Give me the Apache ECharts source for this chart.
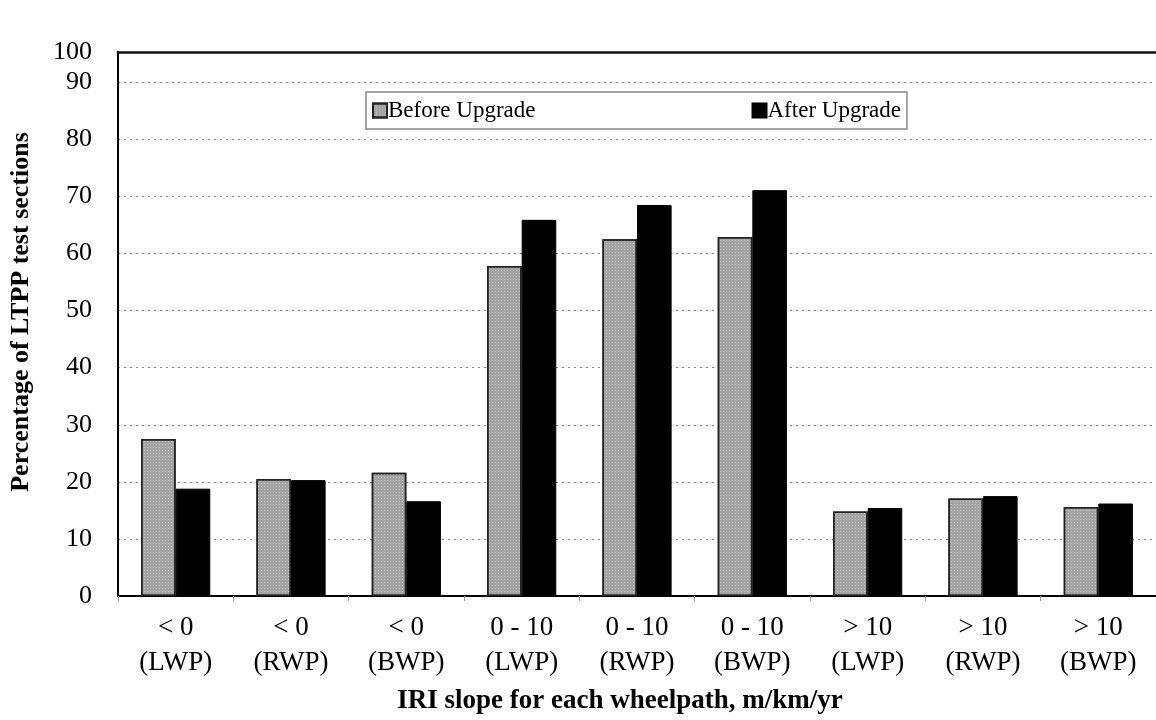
<!DOCTYPE html>
<html>
<head>
<meta charset="utf-8">
<script src="https://cdn.jsdelivr.net/npm/echarts@6/dist/echarts.min.js"></script>
<style>
  html, body { margin: 0; padding: 0; background: #fff; }
  #chart { width: 1156px; height: 720px; }
</style>
</head>
<body>
<div id="chart"></div>
<script>
var categories = ['< 0\n(LWP)', '< 0\n(RWP)', '< 0\n(BWP)', '0 - 10\n(LWP)', '0 - 10\n(RWP)', '0 - 10\n(BWP)', '> 10\n(LWP)', '> 10\n(RWP)', '> 10\n(BWP)'];
var beforeUpgrade = [27.5, 20.5, 21.6, 57.8, 62.5, 62.9, 14.8, 17.1, 15.6];
var afterUpgrade = [18.8, 20.3, 16.6, 65.9, 68.5, 71.1, 15.4, 17.5, 16.2];
var yTickLabels = ['0', '10', '20', '30', '40', '50', '60', '70', '80', '90', '100'];

var serif = '"Liberation Serif", "Times New Roman", serif';

var chart = echarts.init(document.getElementById('chart'));

var option = {
  backgroundColor: '#fff',
  animation: false,
  textStyle: { fontFamily: serif, color: '#000' },
  grid: { left: 116, top: 52, width: 1046, height: 544 },
  legend: {
    left: 366,
    top: 92,
    padding: [7, 6, 7, 6],
    icon: 'rect',
    itemWidth: 14,
    itemHeight: 14,
    itemGap: 216,
    borderColor: '#888',
    borderWidth: 1.5,
    textStyle: { fontFamily: serif, fontSize: 23, color: '#000', padding: [0, 0, 0, -4] },
    data: ['Before Upgrade', 'After Upgrade']
  },
  xAxis: [{
    type: 'category',
    data: categories,
    name: 'IRI slope for each wheelpath, m/km/yr',
    nameLocation: 'middle',
    nameGap: 92,
    nameTextStyle: { fontFamily: serif, fontSize: 27, fontWeight: 'bold', color: '#000', padding: [0, 34, 0, 0] },
    axisLine: { lineStyle: { color: '#000', width: 2 } },
    axisTick: { show: true, length: 5, lineStyle: { color: '#999', width: 1 } },
    axisLabel: { fontFamily: serif, fontSize: 27, color: '#000', lineHeight: 35, margin: 14 }
  }, {
    type: 'category',
    data: categories,
    position: 'top',
    axisLine: { lineStyle: { color: '#111', width: 2.5 } },
    axisTick: { show: false },
    axisLabel: { show: false }
  }],
  yAxis: {
    type: 'value',
    min: 0,
    max: 95.3,
    interval: 10,
    name: 'Percentage of LTPP test sections',
    nameLocation: 'middle',
    nameGap: 84,
    nameTextStyle: { fontFamily: serif, fontSize: 26, fontWeight: 'bold', color: '#000', padding: [0, 0, 0, 24] },
    axisLine: { show: true, lineStyle: { color: '#000', width: 2 } },
    axisTick: { show: false },
    axisLabel: {
      fontFamily: serif, fontSize: 26, color: '#000', margin: 26,
      showMaxLabel: true,
      formatter: function (v, i) { return yTickLabels[i]; }
    },
    splitLine: { lineStyle: { color: '#888', width: 1, type: [2, 4] } }
  },
  series: [{
    name: 'Before Upgrade',
    type: 'bar',
    data: beforeUpgrade,
    barGap: '0%',
    barCategoryGap: '40%',
    itemStyle: {
      color: '#a4a4a4',
      borderColor: '#222',
      borderWidth: 1.5,
      decal: { symbol: 'rect', symbolSize: 1, color: 'rgba(255,255,255,0.35)', dashArrayX: [1, 2], dashArrayY: [1, 2], rotation: 0 }
    }
  }, {
    name: 'After Upgrade',
    type: 'bar',
    data: afterUpgrade,
    itemStyle: { color: '#000', borderColor: '#000', borderWidth: 1 }
  }]
};

chart.setOption(option);
</script>
</body>
</html>
